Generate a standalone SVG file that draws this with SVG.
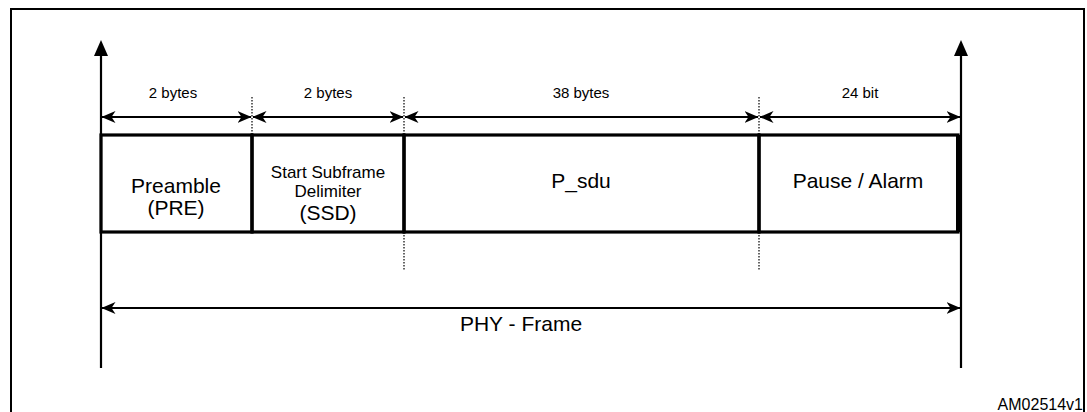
<svg xmlns="http://www.w3.org/2000/svg" width="1087" height="412" viewBox="0 0 1087 412">
<defs>
<style>
.t{font-family:"Liberation Sans",Arial,sans-serif;fill:#000;text-anchor:middle}
.s{font-size:15px}
.m{font-size:21px}
.k{font-size:17px}
.d{stroke:#000;stroke-width:1.2;stroke-dasharray:1.5 1.5;fill:none}
.l{stroke:#000;stroke-width:2.2;fill:none}
.b{stroke:#000;stroke-width:3.2;fill:none}
</style>
<marker id="ah" viewBox="0 0 14 12" refX="13.5" refY="6" markerWidth="14" markerHeight="12" markerUnits="userSpaceOnUse" orient="auto-start-reverse">
<path d="M0,0 L14,6 L0,12 L4,6 Z" fill="#000"/>
</marker>
</defs>
<rect x="11" y="9" width="1073" height="420" fill="none" stroke="#000" stroke-width="2"/>
<g id="connectors">
<line class="l" x1="101" y1="368" x2="101" y2="50"/>
<line class="l" x1="961" y1="368" x2="961" y2="50"/>
<path d="M961,40 L968,56 L954,56 Z" fill="#000"/>
<path d="M101,40 L108,56 L94,56 Z" fill="#000"/>
<line class="d" x1="252" y1="97" x2="252" y2="135"/>
<line class="d" x1="404" y1="97" x2="404" y2="270"/>
<line class="d" x1="759" y1="97" x2="759" y2="270"/>
<line class="l" x1="102" y1="117" x2="251" y2="117" marker-start="url(#ah)" marker-end="url(#ah)"/>
<line class="l" x1="253" y1="117" x2="403" y2="117" marker-start="url(#ah)" marker-end="url(#ah)"/>
<line class="l" x1="405" y1="117" x2="758" y2="117" marker-start="url(#ah)" marker-end="url(#ah)"/>
<line class="l" x1="760" y1="117" x2="960" y2="117" marker-start="url(#ah)" marker-end="url(#ah)"/>
<line class="l" x1="102" y1="308" x2="960" y2="308" marker-start="url(#ah)" marker-end="url(#ah)"/>
</g>
<g id="pre">
<rect class="b" x="101" y="135" width="151" height="97"/>
<text class="t m" x="176" y="193">Preamble</text>
<text class="t m" x="176" y="215">(PRE)</text>
</g>
<g id="ssd">
<rect class="b" x="252" y="135" width="152" height="97"/>
<text class="t k" x="328" y="178">Start Subframe</text>
<text class="t k" x="328" y="197">Delimiter</text>
<text class="t m" x="328" y="220">(SSD)</text>
</g>
<g id="psdu">
<rect class="b" x="404" y="135" width="355" height="97"/>
<text class="t m" x="581" y="188">P_sdu</text>
</g>
<g id="pause">
<rect class="b" x="759" y="135" width="199" height="97"/>
<line x1="958" y1="135" x2="958" y2="232" stroke="#000" stroke-width="4"/>
<text class="t m" x="858" y="188">Pause / Alarm</text>
</g>
<g id="labels">
<text class="t s" x="173" y="98">2 bytes</text>
<text class="t s" x="328" y="98">2 bytes</text>
<text class="t s" x="581" y="98">38 bytes</text>
<text class="t s" x="860" y="98">24 bit</text>
<text class="t m" x="521" y="331">PHY - Frame</text>
<text class="t" style="font-size:16px;text-anchor:end" x="1083" y="410">AM02514v1</text>
</g>
</svg>
